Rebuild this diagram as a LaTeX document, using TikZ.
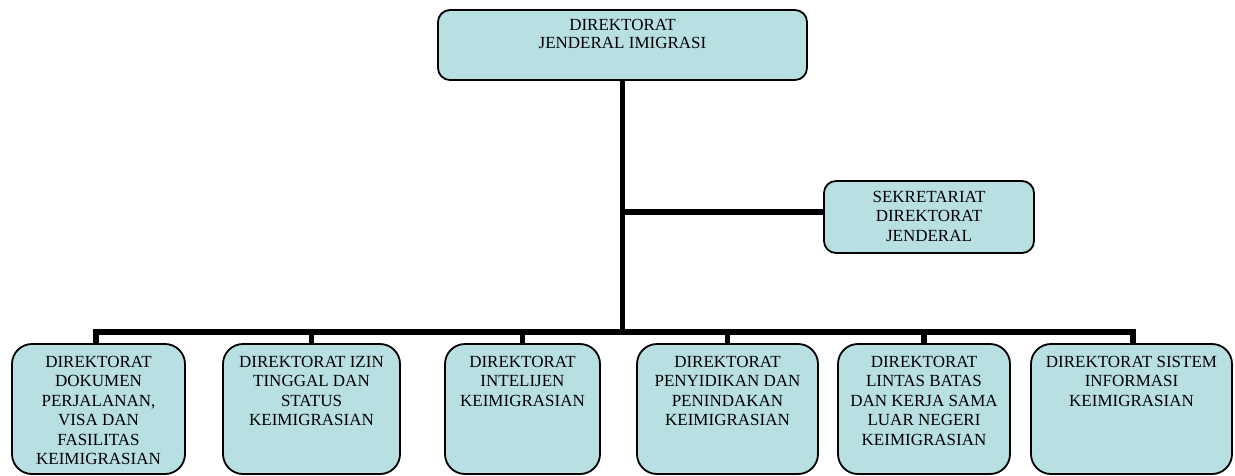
\documentclass[tikz,border=0pt]{standalone}
\usepackage{fontspec}
\setmainfont{Liberation Serif}
\definecolor{boxfill}{RGB}{184,223,226}
\begin{document}
\begin{tikzpicture}[x=1pt,y=-1pt,
  orgbox/.style={draw=black,line width=1.8pt,fill=boxfill,inner sep=0pt,rectangle},
  topbox/.style={orgbox,rounded corners=12pt},
  unitbox/.style={orgbox,rounded corners=20pt,minimum height=130pt},
  lbl/.style={font=\fontsize{17}{19.5}\selectfont,align=center,inner sep=0pt,anchor=north},
  conn/.style={line width=5.5pt}]
\useasboundingbox (0,0) rectangle (1235,475);
% top
\node[topbox,minimum width=369pt,minimum height=70pt] (dj) at (622.5,45) {};
\node[lbl,font=\fontsize{17}{18.5}\selectfont] (tdj) at ([yshift=-9.5pt]dj.north) {DIREKTORAT\\JENDERAL IMIGRASI};
% secretariat
\node[topbox,minimum width=210pt,minimum height=72pt] (sek) at (929,217) {};
\node[lbl] (tsek) at ([yshift=-10.5pt]sek.north) {SEKRETARIAT\\DIREKTORAT\\JENDERAL};
% bottom units
\node[unitbox,minimum width=173pt] (b1) at (98.5,409) {};
\node[unitbox,minimum width=177pt] (b2) at (311.5,409) {};
\node[unitbox,minimum width=155pt] (b3) at (522.5,409) {};
\node[unitbox,minimum width=181pt] (b4) at (727.5,409) {};
\node[unitbox,minimum width=172pt] (b5) at (924,409) {};
\node[unitbox,minimum width=201pt] (b6) at (1131.5,409) {};
\node[lbl] (t1) at ([yshift=-12.5pt]b1.north) {DIREKTORAT\\DOKUMEN\\PERJALANAN,\\VISA DAN\\FASILITAS\\KEIMIGRASIAN};
\node[lbl] (t2) at ([yshift=-12.5pt]b2.north) {DIREKTORAT IZIN\\TINGGAL DAN\\STATUS\\KEIMIGRASIAN};
\node[lbl] (t3) at ([yshift=-12.5pt]b3.north) {DIREKTORAT\\INTELIJEN\\KEIMIGRASIAN};
\node[lbl] (t4) at ([yshift=-12.5pt]b4.north) {DIREKTORAT\\PENYIDIKAN DAN\\PENINDAKAN\\KEIMIGRASIAN};
\node[lbl] (t5) at ([yshift=-12.5pt]b5.north) {DIREKTORAT\\LINTAS BATAS\\DAN KERJA SAMA\\LUAR NEGERI\\KEIMIGRASIAN};
\node[lbl] (t6) at ([yshift=-12.5pt]b6.north) {DIREKTORAT SISTEM\\INFORMASI\\KEIMIGRASIAN};
% connectors
\coordinate (jsek) at (622.5,212);
\coordinate (jbus) at (622.5,332);
\coordinate (busL) at (96,332);
\coordinate (busR) at (1133,332);
\draw[conn] (dj.south) -- (jbus);
\draw[conn] (jsek) -- (jsek -| sek.west);
\draw[conn,line cap=rect] (busL) -- (busR);
\draw[conn] (busL) -- (busL |- b1.north);
\draw[conn] (b2.north |- jbus) -- (b2.north);
\draw[conn] (b3.north |- jbus) -- (b3.north);
\draw[conn] (b4.north |- jbus) -- (b4.north);
\draw[conn] (b5.north |- jbus) -- (b5.north);
\draw[conn] (busR) -- (busR |- b6.north);
\end{tikzpicture}
\end{document}
